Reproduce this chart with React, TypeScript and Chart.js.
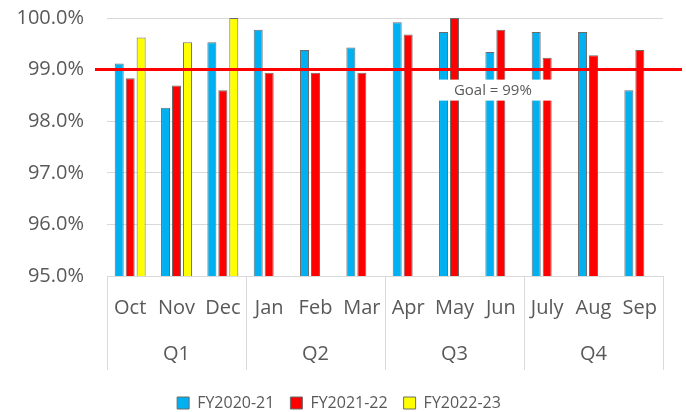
import React, { useEffect, useRef } from "react";
import { Chart, registerables } from "chart.js";

Chart.register(...registerables);

const MONTHS = ["Oct", "Nov", "Dec", "Jan", "Feb", "Mar", "Apr", "May", "Jun", "July", "Aug", "Sep"];
const QUARTERS = ["Q1", "Q2", "Q3", "Q4"];
const MONTHS_PER_QUARTER = 3;
const FY2020_21 = [99.12, 98.26, 99.53, 99.77, 99.38, 99.43, 99.92, 99.73, 99.34, 99.73, 99.73, 98.6];
const FY2021_22 = [98.83, 98.69, 98.6, 98.94, 98.94, 98.94, 99.68, 100.0, 99.77, 99.23, 99.28, 99.38];
const FY2022_23 = [99.62, 99.53, 100.0, null, null, null, null, null, null, null, null, null];
const GOAL = 99;
const GOAL_LABEL = "Goal = 99%";
const Y_MIN = 95;
const Y_MAX = 100;

const FONT = "'Open Sans', 'DejaVu Sans', sans-serif";
const TEXT = "#595959";
const GRID = "#d9d9d9";

const quarterPlugin = {
  id: "quarterAxis",
  afterDraw(chart: any) {
    const { ctx, chartArea, scales } = chart;
    const x = scales.x;
    const n = MONTHS.length;
    const step = (chartArea.right - chartArea.left) / n;
    const top = chartArea.bottom;
    const bottom = chartArea.bottom + 94;
    ctx.save();
    ctx.strokeStyle = GRID;
    ctx.lineWidth = 1;
    for (let q = 0; q <= QUARTERS.length; q++) {
      const px = Math.round(x.getPixelForValue(q * MONTHS_PER_QUARTER) - step / 2) + 0.5;
      ctx.beginPath();
      ctx.moveTo(px, top);
      ctx.lineTo(px, bottom);
      ctx.stroke();
    }
    ctx.fillStyle = TEXT;
    ctx.font = `20px ${FONT}`;
    ctx.textAlign = "center";
    ctx.textBaseline = "middle";
    QUARTERS.forEach((q, i) => {
      const a = x.getPixelForValue(i * MONTHS_PER_QUARTER);
      const b = x.getPixelForValue(i * MONTHS_PER_QUARTER + MONTHS_PER_QUARTER - 1);
      ctx.fillText(q, (a + b) / 2, chartArea.bottom + 78);
    });
    ctx.restore();
  },
};

const goalPlugin = {
  id: "goalLine",
  afterDatasetsDraw(chart: any) {
    const { ctx, chartArea, scales } = chart;
    const y = scales.y.getPixelForValue(GOAL);
    ctx.save();
    ctx.strokeStyle = "#ff0000";
    ctx.lineWidth = 3;
    ctx.beginPath();
    ctx.moveTo(chartArea.left - 12, y);
    ctx.lineTo(chartArea.right + 19, y);
    ctx.stroke();
    const cx = chartArea.left + 0.694 * (chartArea.right - chartArea.left);
    const bw = 124;
    const bh = 21;
    const by = y + 10;
    ctx.fillStyle = "#ffffff";
    ctx.fillRect(cx - bw / 2, by, bw, bh);
    ctx.fillStyle = TEXT;
    ctx.font = `15px ${FONT}`;
    ctx.textAlign = "center";
    ctx.textBaseline = "middle";
    ctx.fillText(GOAL_LABEL, cx, by + bh / 2 + 1);
    ctx.restore();
  },
};

export default function App() {
  const ref = useRef<HTMLCanvasElement | null>(null);

  useEffect(() => {
    if (!ref.current) return;
    const border = "#6b6b6b";
    const chart = new Chart(ref.current, {
      type: "bar",
      data: {
        labels: MONTHS,
        datasets: [
          { label: "FY2020-21", data: FY2020_21, backgroundColor: "#00b0f0", borderColor: border, borderWidth: 1 },
          { label: "FY2021-22", data: FY2021_22, backgroundColor: "#ff0000", borderColor: border, borderWidth: 1 },
          { label: "FY2022-23", data: FY2022_23 as any, backgroundColor: "#ffff00", borderColor: border, borderWidth: 1 },
        ],
      },
      options: {
        animation: false,
        responsive: true,
        maintainAspectRatio: false,
        datasets: { bar: { categoryPercentage: 0.71, barPercentage: 0.82 } },
        layout: { padding: { left: 15, right: 23, top: 18, bottom: 0 } },
        plugins: {
          tooltip: { enabled: false },
          legend: {
            position: "bottom",
            labels: {
              boxWidth: 12,
              boxHeight: 12,
              padding: 16,
              color: TEXT,
              font: { size: 16, family: FONT },
            },
          },
        },
        scales: {
          x: {
            grid: { display: false, drawTicks: false },
            border: { display: true, color: GRID },
            ticks: {
              color: TEXT,
              font: { size: 20, family: FONT },
              padding: 20,
              autoSkip: false,
              maxRotation: 0,
              minRotation: 0,
            },
            afterFit: (scale: any) => {
              scale.height = 103;
              scale.paddingLeft = 0;
              scale.paddingRight = 0;
            },
          },
          y: {
            min: Y_MIN,
            max: Y_MAX,
            grid: { color: GRID, drawTicks: false },
            border: { display: false },
            ticks: {
              stepSize: 1,
              padding: 23,
              color: TEXT,
              font: { size: 20, family: FONT },
              callback: (v: any) => Number(v).toFixed(1) + "%",
            },
            afterFit: (scale: any) => {
              scale.width = 92;
              scale.paddingTop = 0;
              scale.paddingBottom = 0;
            },
          },
        },
      },
      plugins: [goalPlugin, quarterPlugin],
    });
    return () => chart.destroy();
  }, []);

  return (
    <div style={{ position: "fixed", left: 0, top: 0, width: 686, height: 421, background: "#fff" }}>
      <canvas ref={ref} />
    </div>
  );
}
